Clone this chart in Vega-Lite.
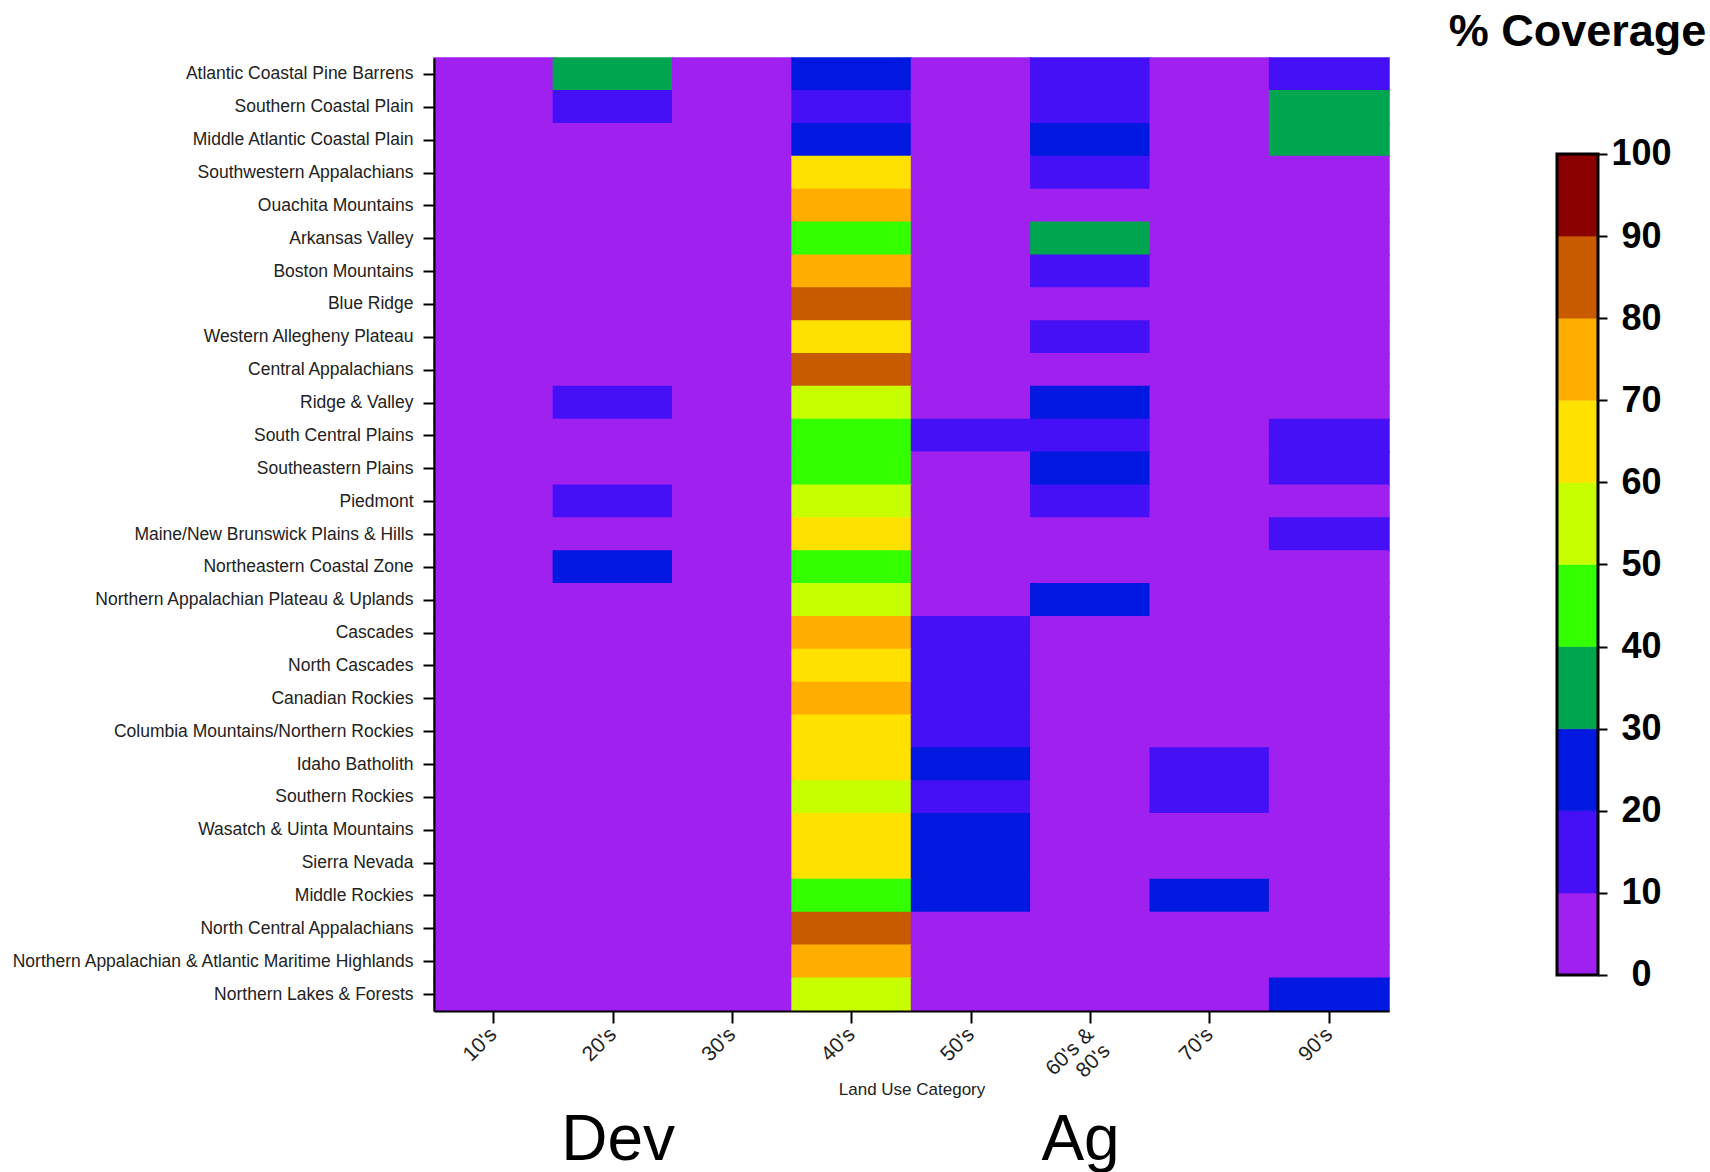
{
  "$schema": "https://vega.github.io/schema/vega-lite/v6.json",
  "autosize": {"type": "pad"},
  "padding": {"left": 10, "top": 10, "right": 0, "bottom": 0},
  "background": "white",
  "spacing": 168,
  "bounds": "flush",
  "config": {"view": {"stroke": null}, "font": "Liberation Sans"},
  "hconcat": [
    {
      "width": 955,
      "height": 953,
      "resolve": {"scale": {"x": "independent"}, "axis": {"x": "independent"}},
      "layer": [
        {
          "data": {"values": [
            {"r":"Atlantic Coastal Pine Barrens","c":"10's","v":5},{"r":"Atlantic Coastal Pine Barrens","c":"20's","v":35},{"r":"Atlantic Coastal Pine Barrens","c":"30's","v":5},{"r":"Atlantic Coastal Pine Barrens","c":"40's","v":25},{"r":"Atlantic Coastal Pine Barrens","c":"50's","v":5},{"r":"Atlantic Coastal Pine Barrens","c":"60's & 80's","v":15},{"r":"Atlantic Coastal Pine Barrens","c":"70's","v":5},{"r":"Atlantic Coastal Pine Barrens","c":"90's","v":15},
            {"r":"Southern Coastal Plain","c":"10's","v":5},{"r":"Southern Coastal Plain","c":"20's","v":15},{"r":"Southern Coastal Plain","c":"30's","v":5},{"r":"Southern Coastal Plain","c":"40's","v":15},{"r":"Southern Coastal Plain","c":"50's","v":5},{"r":"Southern Coastal Plain","c":"60's & 80's","v":15},{"r":"Southern Coastal Plain","c":"70's","v":5},{"r":"Southern Coastal Plain","c":"90's","v":35},
            {"r":"Middle Atlantic Coastal Plain","c":"10's","v":5},{"r":"Middle Atlantic Coastal Plain","c":"20's","v":5},{"r":"Middle Atlantic Coastal Plain","c":"30's","v":5},{"r":"Middle Atlantic Coastal Plain","c":"40's","v":25},{"r":"Middle Atlantic Coastal Plain","c":"50's","v":5},{"r":"Middle Atlantic Coastal Plain","c":"60's & 80's","v":25},{"r":"Middle Atlantic Coastal Plain","c":"70's","v":5},{"r":"Middle Atlantic Coastal Plain","c":"90's","v":35},
            {"r":"Southwestern Appalachians","c":"10's","v":5},{"r":"Southwestern Appalachians","c":"20's","v":5},{"r":"Southwestern Appalachians","c":"30's","v":5},{"r":"Southwestern Appalachians","c":"40's","v":65},{"r":"Southwestern Appalachians","c":"50's","v":5},{"r":"Southwestern Appalachians","c":"60's & 80's","v":15},{"r":"Southwestern Appalachians","c":"70's","v":5},{"r":"Southwestern Appalachians","c":"90's","v":5},
            {"r":"Ouachita Mountains","c":"10's","v":5},{"r":"Ouachita Mountains","c":"20's","v":5},{"r":"Ouachita Mountains","c":"30's","v":5},{"r":"Ouachita Mountains","c":"40's","v":75},{"r":"Ouachita Mountains","c":"50's","v":5},{"r":"Ouachita Mountains","c":"60's & 80's","v":5},{"r":"Ouachita Mountains","c":"70's","v":5},{"r":"Ouachita Mountains","c":"90's","v":5},
            {"r":"Arkansas Valley","c":"10's","v":5},{"r":"Arkansas Valley","c":"20's","v":5},{"r":"Arkansas Valley","c":"30's","v":5},{"r":"Arkansas Valley","c":"40's","v":45},{"r":"Arkansas Valley","c":"50's","v":5},{"r":"Arkansas Valley","c":"60's & 80's","v":35},{"r":"Arkansas Valley","c":"70's","v":5},{"r":"Arkansas Valley","c":"90's","v":5},
            {"r":"Boston Mountains","c":"10's","v":5},{"r":"Boston Mountains","c":"20's","v":5},{"r":"Boston Mountains","c":"30's","v":5},{"r":"Boston Mountains","c":"40's","v":75},{"r":"Boston Mountains","c":"50's","v":5},{"r":"Boston Mountains","c":"60's & 80's","v":15},{"r":"Boston Mountains","c":"70's","v":5},{"r":"Boston Mountains","c":"90's","v":5},
            {"r":"Blue Ridge","c":"10's","v":5},{"r":"Blue Ridge","c":"20's","v":5},{"r":"Blue Ridge","c":"30's","v":5},{"r":"Blue Ridge","c":"40's","v":85},{"r":"Blue Ridge","c":"50's","v":5},{"r":"Blue Ridge","c":"60's & 80's","v":5},{"r":"Blue Ridge","c":"70's","v":5},{"r":"Blue Ridge","c":"90's","v":5},
            {"r":"Western Allegheny Plateau","c":"10's","v":5},{"r":"Western Allegheny Plateau","c":"20's","v":5},{"r":"Western Allegheny Plateau","c":"30's","v":5},{"r":"Western Allegheny Plateau","c":"40's","v":65},{"r":"Western Allegheny Plateau","c":"50's","v":5},{"r":"Western Allegheny Plateau","c":"60's & 80's","v":15},{"r":"Western Allegheny Plateau","c":"70's","v":5},{"r":"Western Allegheny Plateau","c":"90's","v":5},
            {"r":"Central Appalachians","c":"10's","v":5},{"r":"Central Appalachians","c":"20's","v":5},{"r":"Central Appalachians","c":"30's","v":5},{"r":"Central Appalachians","c":"40's","v":85},{"r":"Central Appalachians","c":"50's","v":5},{"r":"Central Appalachians","c":"60's & 80's","v":5},{"r":"Central Appalachians","c":"70's","v":5},{"r":"Central Appalachians","c":"90's","v":5},
            {"r":"Ridge & Valley","c":"10's","v":5},{"r":"Ridge & Valley","c":"20's","v":15},{"r":"Ridge & Valley","c":"30's","v":5},{"r":"Ridge & Valley","c":"40's","v":55},{"r":"Ridge & Valley","c":"50's","v":5},{"r":"Ridge & Valley","c":"60's & 80's","v":25},{"r":"Ridge & Valley","c":"70's","v":5},{"r":"Ridge & Valley","c":"90's","v":5},
            {"r":"South Central Plains","c":"10's","v":5},{"r":"South Central Plains","c":"20's","v":5},{"r":"South Central Plains","c":"30's","v":5},{"r":"South Central Plains","c":"40's","v":45},{"r":"South Central Plains","c":"50's","v":15},{"r":"South Central Plains","c":"60's & 80's","v":15},{"r":"South Central Plains","c":"70's","v":5},{"r":"South Central Plains","c":"90's","v":15},
            {"r":"Southeastern Plains","c":"10's","v":5},{"r":"Southeastern Plains","c":"20's","v":5},{"r":"Southeastern Plains","c":"30's","v":5},{"r":"Southeastern Plains","c":"40's","v":45},{"r":"Southeastern Plains","c":"50's","v":5},{"r":"Southeastern Plains","c":"60's & 80's","v":25},{"r":"Southeastern Plains","c":"70's","v":5},{"r":"Southeastern Plains","c":"90's","v":15},
            {"r":"Piedmont","c":"10's","v":5},{"r":"Piedmont","c":"20's","v":15},{"r":"Piedmont","c":"30's","v":5},{"r":"Piedmont","c":"40's","v":55},{"r":"Piedmont","c":"50's","v":5},{"r":"Piedmont","c":"60's & 80's","v":15},{"r":"Piedmont","c":"70's","v":5},{"r":"Piedmont","c":"90's","v":5},
            {"r":"Maine/New Brunswick Plains & Hills","c":"10's","v":5},{"r":"Maine/New Brunswick Plains & Hills","c":"20's","v":5},{"r":"Maine/New Brunswick Plains & Hills","c":"30's","v":5},{"r":"Maine/New Brunswick Plains & Hills","c":"40's","v":65},{"r":"Maine/New Brunswick Plains & Hills","c":"50's","v":5},{"r":"Maine/New Brunswick Plains & Hills","c":"60's & 80's","v":5},{"r":"Maine/New Brunswick Plains & Hills","c":"70's","v":5},{"r":"Maine/New Brunswick Plains & Hills","c":"90's","v":15},
            {"r":"Northeastern Coastal Zone","c":"10's","v":5},{"r":"Northeastern Coastal Zone","c":"20's","v":25},{"r":"Northeastern Coastal Zone","c":"30's","v":5},{"r":"Northeastern Coastal Zone","c":"40's","v":45},{"r":"Northeastern Coastal Zone","c":"50's","v":5},{"r":"Northeastern Coastal Zone","c":"60's & 80's","v":5},{"r":"Northeastern Coastal Zone","c":"70's","v":5},{"r":"Northeastern Coastal Zone","c":"90's","v":5},
            {"r":"Northern Appalachian Plateau & Uplands","c":"10's","v":5},{"r":"Northern Appalachian Plateau & Uplands","c":"20's","v":5},{"r":"Northern Appalachian Plateau & Uplands","c":"30's","v":5},{"r":"Northern Appalachian Plateau & Uplands","c":"40's","v":55},{"r":"Northern Appalachian Plateau & Uplands","c":"50's","v":5},{"r":"Northern Appalachian Plateau & Uplands","c":"60's & 80's","v":25},{"r":"Northern Appalachian Plateau & Uplands","c":"70's","v":5},{"r":"Northern Appalachian Plateau & Uplands","c":"90's","v":5},
            {"r":"Cascades","c":"10's","v":5},{"r":"Cascades","c":"20's","v":5},{"r":"Cascades","c":"30's","v":5},{"r":"Cascades","c":"40's","v":75},{"r":"Cascades","c":"50's","v":15},{"r":"Cascades","c":"60's & 80's","v":5},{"r":"Cascades","c":"70's","v":5},{"r":"Cascades","c":"90's","v":5},
            {"r":"North Cascades","c":"10's","v":5},{"r":"North Cascades","c":"20's","v":5},{"r":"North Cascades","c":"30's","v":5},{"r":"North Cascades","c":"40's","v":65},{"r":"North Cascades","c":"50's","v":15},{"r":"North Cascades","c":"60's & 80's","v":5},{"r":"North Cascades","c":"70's","v":5},{"r":"North Cascades","c":"90's","v":5},
            {"r":"Canadian Rockies","c":"10's","v":5},{"r":"Canadian Rockies","c":"20's","v":5},{"r":"Canadian Rockies","c":"30's","v":5},{"r":"Canadian Rockies","c":"40's","v":75},{"r":"Canadian Rockies","c":"50's","v":15},{"r":"Canadian Rockies","c":"60's & 80's","v":5},{"r":"Canadian Rockies","c":"70's","v":5},{"r":"Canadian Rockies","c":"90's","v":5},
            {"r":"Columbia Mountains/Northern Rockies","c":"10's","v":5},{"r":"Columbia Mountains/Northern Rockies","c":"20's","v":5},{"r":"Columbia Mountains/Northern Rockies","c":"30's","v":5},{"r":"Columbia Mountains/Northern Rockies","c":"40's","v":65},{"r":"Columbia Mountains/Northern Rockies","c":"50's","v":15},{"r":"Columbia Mountains/Northern Rockies","c":"60's & 80's","v":5},{"r":"Columbia Mountains/Northern Rockies","c":"70's","v":5},{"r":"Columbia Mountains/Northern Rockies","c":"90's","v":5},
            {"r":"Idaho Batholith","c":"10's","v":5},{"r":"Idaho Batholith","c":"20's","v":5},{"r":"Idaho Batholith","c":"30's","v":5},{"r":"Idaho Batholith","c":"40's","v":65},{"r":"Idaho Batholith","c":"50's","v":25},{"r":"Idaho Batholith","c":"60's & 80's","v":5},{"r":"Idaho Batholith","c":"70's","v":15},{"r":"Idaho Batholith","c":"90's","v":5},
            {"r":"Southern Rockies","c":"10's","v":5},{"r":"Southern Rockies","c":"20's","v":5},{"r":"Southern Rockies","c":"30's","v":5},{"r":"Southern Rockies","c":"40's","v":55},{"r":"Southern Rockies","c":"50's","v":15},{"r":"Southern Rockies","c":"60's & 80's","v":5},{"r":"Southern Rockies","c":"70's","v":15},{"r":"Southern Rockies","c":"90's","v":5},
            {"r":"Wasatch & Uinta Mountains","c":"10's","v":5},{"r":"Wasatch & Uinta Mountains","c":"20's","v":5},{"r":"Wasatch & Uinta Mountains","c":"30's","v":5},{"r":"Wasatch & Uinta Mountains","c":"40's","v":65},{"r":"Wasatch & Uinta Mountains","c":"50's","v":25},{"r":"Wasatch & Uinta Mountains","c":"60's & 80's","v":5},{"r":"Wasatch & Uinta Mountains","c":"70's","v":5},{"r":"Wasatch & Uinta Mountains","c":"90's","v":5},
            {"r":"Sierra Nevada","c":"10's","v":5},{"r":"Sierra Nevada","c":"20's","v":5},{"r":"Sierra Nevada","c":"30's","v":5},{"r":"Sierra Nevada","c":"40's","v":65},{"r":"Sierra Nevada","c":"50's","v":25},{"r":"Sierra Nevada","c":"60's & 80's","v":5},{"r":"Sierra Nevada","c":"70's","v":5},{"r":"Sierra Nevada","c":"90's","v":5},
            {"r":"Middle Rockies","c":"10's","v":5},{"r":"Middle Rockies","c":"20's","v":5},{"r":"Middle Rockies","c":"30's","v":5},{"r":"Middle Rockies","c":"40's","v":45},{"r":"Middle Rockies","c":"50's","v":25},{"r":"Middle Rockies","c":"60's & 80's","v":5},{"r":"Middle Rockies","c":"70's","v":25},{"r":"Middle Rockies","c":"90's","v":5},
            {"r":"North Central Appalachians","c":"10's","v":5},{"r":"North Central Appalachians","c":"20's","v":5},{"r":"North Central Appalachians","c":"30's","v":5},{"r":"North Central Appalachians","c":"40's","v":85},{"r":"North Central Appalachians","c":"50's","v":5},{"r":"North Central Appalachians","c":"60's & 80's","v":5},{"r":"North Central Appalachians","c":"70's","v":5},{"r":"North Central Appalachians","c":"90's","v":5},
            {"r":"Northern Appalachian & Atlantic Maritime Highlands","c":"10's","v":5},{"r":"Northern Appalachian & Atlantic Maritime Highlands","c":"20's","v":5},{"r":"Northern Appalachian & Atlantic Maritime Highlands","c":"30's","v":5},{"r":"Northern Appalachian & Atlantic Maritime Highlands","c":"40's","v":75},{"r":"Northern Appalachian & Atlantic Maritime Highlands","c":"50's","v":5},{"r":"Northern Appalachian & Atlantic Maritime Highlands","c":"60's & 80's","v":5},{"r":"Northern Appalachian & Atlantic Maritime Highlands","c":"70's","v":5},{"r":"Northern Appalachian & Atlantic Maritime Highlands","c":"90's","v":5},
            {"r":"Northern Lakes & Forests","c":"10's","v":5},{"r":"Northern Lakes & Forests","c":"20's","v":5},{"r":"Northern Lakes & Forests","c":"30's","v":5},{"r":"Northern Lakes & Forests","c":"40's","v":55},{"r":"Northern Lakes & Forests","c":"50's","v":5},{"r":"Northern Lakes & Forests","c":"60's & 80's","v":5},{"r":"Northern Lakes & Forests","c":"70's","v":5},{"r":"Northern Lakes & Forests","c":"90's","v":25}
          ]},
          "mark": {"type": "rect", "strokeWidth": 1.5},
          "encoding": {
            "x": {
              "field": "c", "type": "nominal", "sort": null,
              "scale": {"domain": ["10's","20's","30's","40's","50's","60's & 80's","70's","90's"], "paddingInner": 0, "paddingOuter": 0},
              "axis": {
                "title": "Land Use Category", "titleFontSize": 17, "titleFontWeight": "normal", "titleColor": "#222", "titleY": 70, "titleBaseline": "top",
                "labelAngle": -45, "labelAlign": "right", "labelBaseline": "middle", "labelFontSize": 21, "labelColor": "#222", "labelPadding": 8, "labelLineHeight": 23,
                "labelExpr": "datum.label == \"60's & 80's\" ? [\"60's &\", \"80's\"] : datum.label",
                "tickSize": 12, "tickWidth": 2, "tickColor": "black", "domainColor": "black", "domainWidth": 2
              }
            },
            "y": {
              "field": "r", "type": "nominal", "sort": null,
              "scale": {"paddingInner": 0, "paddingOuter": 0},
              "axis": {"title": null, "labelFontSize": 17.5, "labelColor": "#222", "labelPadding": 10, "labelLimit": 500, "tickSize": 11, "tickWidth": 2, "tickColor": "black", "domainColor": "black", "domainWidth": 2}
            },
            "color": {
              "field": "v", "type": "quantitative",
              "scale": {"type": "quantize", "domain": [0, 100], "range": ["#A020F0","#4510F5","#0018E0","#00A550","#33FF00","#C8FF00","#FFE100","#FFAE00","#C85A00","#8B0000"]},
              "legend": null
            },
            "stroke": {
              "field": "v", "type": "quantitative",
              "scale": {"type": "quantize", "domain": [0, 100], "range": ["#A020F0","#4510F5","#0018E0","#00A550","#33FF00","#C8FF00","#FFE100","#FFAE00","#C85A00","#8B0000"]},
              "legend": null
            }
          }
        },
        {
          "data": {"values": [{"c": "20's", "t": "Dev"}, {"c": "60's & 80's", "t": "Ag"}]},
          "mark": {"type": "rect", "opacity": 0},
          "encoding": {
            "x": {
              "field": "c", "type": "nominal", "sort": null,
              "scale": {"domain": ["10's","20's","30's","40's","50's","60's & 80's","70's","90's"], "paddingInner": 0, "paddingOuter": 0},
              "axis": {"orient": "bottom", "title": null, "ticks": false, "domain": false, "labelAngle": 0, "labelAlign": "center", "labelBaseline": "top", "labelFontSize": 64, "labelColor": "black", "labelPadding": 97,
                "labelOffset": {"condition": {"test": "datum.value == \"20's\"", "value": 5}, "value": -10},
                "values": ["20's", "60's & 80's"], "labelExpr": "datum.value == \"20's\" ? 'Dev' : 'Ag'"}
            }
          }
        }
      ]
    },
    {
      "width": 41,
      "height": 953,
      "title": {"text": "% Coverage", "anchor": "middle", "frame": "group", "offset": -33, "baseline": "alphabetic", "fontSize": 45, "font": "Liberation Sans", "fontWeight": "bold", "color": "black"},
      "layer": [
        {
          "data": {"values": [
            {"lo": 0, "hi": 10, "v": 5}, {"lo": 10, "hi": 20, "v": 15}, {"lo": 20, "hi": 30, "v": 25}, {"lo": 30, "hi": 40, "v": 35}, {"lo": 40, "hi": 50, "v": 45},
            {"lo": 50, "hi": 60, "v": 55}, {"lo": 60, "hi": 70, "v": 65}, {"lo": 70, "hi": 80, "v": 75}, {"lo": 80, "hi": 90, "v": 85}, {"lo": 90, "hi": 100, "v": 95}
          ]},
          "mark": {"type": "rect", "strokeWidth": 0.6},
          "encoding": {
            "y": {
              "field": "lo", "type": "quantitative",
              "scale": {"domain": [-4.385, 111.69], "nice": false, "zero": false},
              "axis": {"orient": "right", "title": null, "grid": false, "domain": false, "values": [0,10,20,30,40,50,60,70,80,90,100],
                "tickSize": 9, "tickWidth": 2, "tickColor": "black", "labelFontSize": 36, "labelFontWeight": "bold", "labelColor": "black",
                "labelAlign": "center", "labelBaseline": "middle", "labelPadding": 34, "labelOverlap": false, "labelFlush": false}
            },
            "y2": {"field": "hi"},
            "color": {
              "field": "v", "type": "quantitative",
              "scale": {"type": "quantize", "domain": [0, 100], "range": ["#A020F0","#4510F5","#0018E0","#00A550","#33FF00","#C8FF00","#FFE100","#FFAE00","#C85A00","#8B0000"]},
              "legend": null
            },
            "stroke": {
              "field": "v", "type": "quantitative",
              "scale": {"type": "quantize", "domain": [0, 100], "range": ["#A020F0","#4510F5","#0018E0","#00A550","#33FF00","#C8FF00","#FFE100","#FFAE00","#C85A00","#8B0000"]},
              "legend": null
            }
          }
        },
        {
          "data": {"values": [{"lo": 0, "hi": 100}]},
          "mark": {"type": "rect", "fill": null, "stroke": "black", "strokeWidth": 3},
          "encoding": {
            "y": {"field": "lo", "type": "quantitative"},
            "y2": {"field": "hi"}
          }
        }
      ]
    }
  ]
}
